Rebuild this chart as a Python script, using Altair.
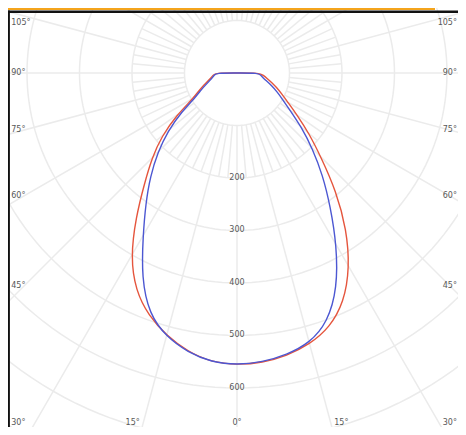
import altair as alt
import pandas as pd
import numpy as np

# ---- data ----
gamma = [0, 5, 10, 15, 20, 25, 30, 35, 40, 45, 50, 55, 60, 65, 70, 75, 80, 85, 90, 95]
blue_left = [556, 553, 540, 520, 489, 430, 358, 303, 257, 213, 172, 128, 90, 75, 62, 53, 47, 43, 40, 0]
blue_right = [556, 553, 545, 533, 505, 452, 380, 310, 254, 203, 160, 123, 100, 84, 70, 58, 50, 45, 41, 0]
red_left = [556, 553, 539, 518, 492, 457, 405, 336, 274, 229, 187, 140, 96, 80, 67, 57, 50, 45, 42, 0]
red_right = [556, 554, 547, 535, 516, 482, 429, 364, 294, 226, 179, 140, 112, 94, 80, 68, 58, 50, 44, 0]

series_names = ["C0 - C180", "C90 - C270"]
series_colors = ["#4c57d2", "#e5553d"]

ring_values = [100, 200, 300, 400, 500, 600, 700, 800, 900]
ring_labels = [200, 300, 400, 500, 600]
side_angle_labels = [30, 45, 60, 75, 90, 105]
bottom_angle_labels = [0, 15]

# ---- tables ----
rows = []
for name, left, right in [(series_names[1], red_left, red_right), (series_names[0], blue_left, blue_right)]:
    for g, v in zip(gamma, left):
        rows.append({"series": name, "g": -g, "v": v})
    for g, v in zip(gamma[1:], right[1:]):
        rows.append({"series": name, "g": g, "v": v})
curves = pd.DataFrame(rows)

ring_df = pd.DataFrame([{"r": r, "a": a} for r in ring_values for a in np.arange(0, 362, 2)])

spokes = []
for a in range(-180, 180, 5):
    spokes.append({"a": a, "r1": 100, "r2": 900 if a % 15 == 0 else 200})
spoke_df = pd.DataFrame(spokes)

ring_lab_df = pd.DataFrame({"v": ring_labels, "label": [str(v) for v in ring_labels]})

left_df = pd.DataFrame({"angle": side_angle_labels, "side": -1, "label": [f"{a}°" for a in side_angle_labels]})
right_df = pd.DataFrame({"angle": side_angle_labels, "side": 1, "label": [f"{a}°" for a in side_angle_labels]})
bl = []
for a in bottom_angle_labels:
    for s in ([1] if a == 0 else [-1, 1]):
        bl.append({"angle": a, "side": s, "label": f"{a}°"})
bottom_df = pd.DataFrame(bl)

W = 405
H = 667      # label row at the bottom
TOP = -96    # highest label row

xs = alt.Scale(domain=[-436.2, 421.0], nice=False, zero=False)
ys = alt.Scale(domain=[-123.8, 674.3], nice=False, zero=False, reverse=True)
grid_color = "#ebebeb"
text_color = "#585858"

rings = alt.Chart(ring_df).transform_calculate(
    x="datum.r * sin(datum.a * PI / 180)",
    y="datum.r * cos(datum.a * PI / 180)",
).mark_line(color=grid_color, strokeWidth=1.5, clip=True).encode(
    x=alt.X("x:Q", scale=xs, axis=None),
    y=alt.Y("y:Q", scale=ys, axis=None),
    detail="r:N",
    order="a:Q",
)

spk = alt.Chart(spoke_df).transform_calculate(
    x="datum.r1 * sin(datum.a * PI / 180)",
    y="datum.r1 * cos(datum.a * PI / 180)",
    x2="datum.r2 * sin(datum.a * PI / 180)",
    y2="datum.r2 * cos(datum.a * PI / 180)",
).mark_rule(color=grid_color, strokeWidth=1.5, clip=True).encode(
    x=alt.X("x:Q", scale=xs, axis=None),
    y=alt.Y("y:Q", scale=ys, axis=None),
    x2="x2:Q",
    y2="y2:Q",
)

curve = alt.Chart(curves).transform_calculate(
    x="datum.v * sin(datum.g * PI / 180)",
    y="datum.v * cos(datum.g * PI / 180)",
).mark_line(strokeWidth=1.4, interpolate="basis", clip=True).encode(
    x=alt.X("x:Q", scale=xs, axis=None),
    y=alt.Y("y:Q", scale=ys, axis=None),
    color=alt.Color("series:N", scale=alt.Scale(domain=series_names, range=series_colors), legend=None),
    order="g:Q",
    detail="series:N",
)

ring_text = alt.Chart(ring_lab_df).transform_calculate(x="0").mark_text(
    font="DejaVu Sans", fontSize=8, color=text_color, baseline="middle", align="center"
).encode(
    x=alt.X("x:Q", scale=xs, axis=None),
    y=alt.Y("v:Q", scale=ys, axis=None),
    text="label:N",
)


def side_labels(df, align, xpos):
    return alt.Chart(df).transform_calculate(
        y=f"max({TOP}, min({H}, {W} * cos(datum.angle * PI / 180) / sin(datum.angle * PI / 180)))",
        x=f"{xpos}",
    ).mark_text(
        font="DejaVu Sans", fontSize=8, color=text_color, baseline="middle", align=align
    ).encode(
        x=alt.X("x:Q", scale=xs, axis=None),
        y=alt.Y("y:Q", scale=ys, axis=None),
        text="label:N",
    )


left_text = side_labels(left_df, "left", -430)
right_text = side_labels(right_df, "right", 419)

bottom_text = alt.Chart(bottom_df).transform_calculate(
    x=f"datum.side * ({H} * tan(datum.angle * PI / 180) + (datum.angle > 0 ? 20 : 0))",
    y=f"{H}",
).mark_text(
    font="DejaVu Sans", fontSize=8, color=text_color, baseline="middle", align="center"
).encode(
    x=alt.X("x:Q", scale=xs, axis=None),
    y=alt.Y("y:Q", scale=ys, axis=None),
    text="label:N",
)

frame_src = pd.DataFrame({"k": [0]})
orange = alt.Chart(frame_src).mark_rule(color="#f4a41c", strokeWidth=2.2).encode(
    x=alt.value(0), x2=alt.value(427), y=alt.value(1)
)
top_line = alt.Chart(frame_src).mark_rule(color="#111111", strokeWidth=2.4).encode(
    x=alt.value(0), x2=alt.value(450), y=alt.value(3.8)
)
left_line = alt.Chart(frame_src).mark_rule(color="#111111", strokeWidth=2.6).encode(
    x=alt.value(0.6), y=alt.value(2.6), y2=alt.value(419)
)

chart = alt.layer(
    rings, spk, curve, ring_text, left_text, right_text, bottom_text, orange, top_line, left_line
).properties(
    width=450, height=419,
    autosize=alt.AutoSizeParams(type="none"),
    padding=0,
    background="white",
).configure_view(stroke=None)

chart.save("out.html", embed_options={"renderer": "svg", "actions": False})
